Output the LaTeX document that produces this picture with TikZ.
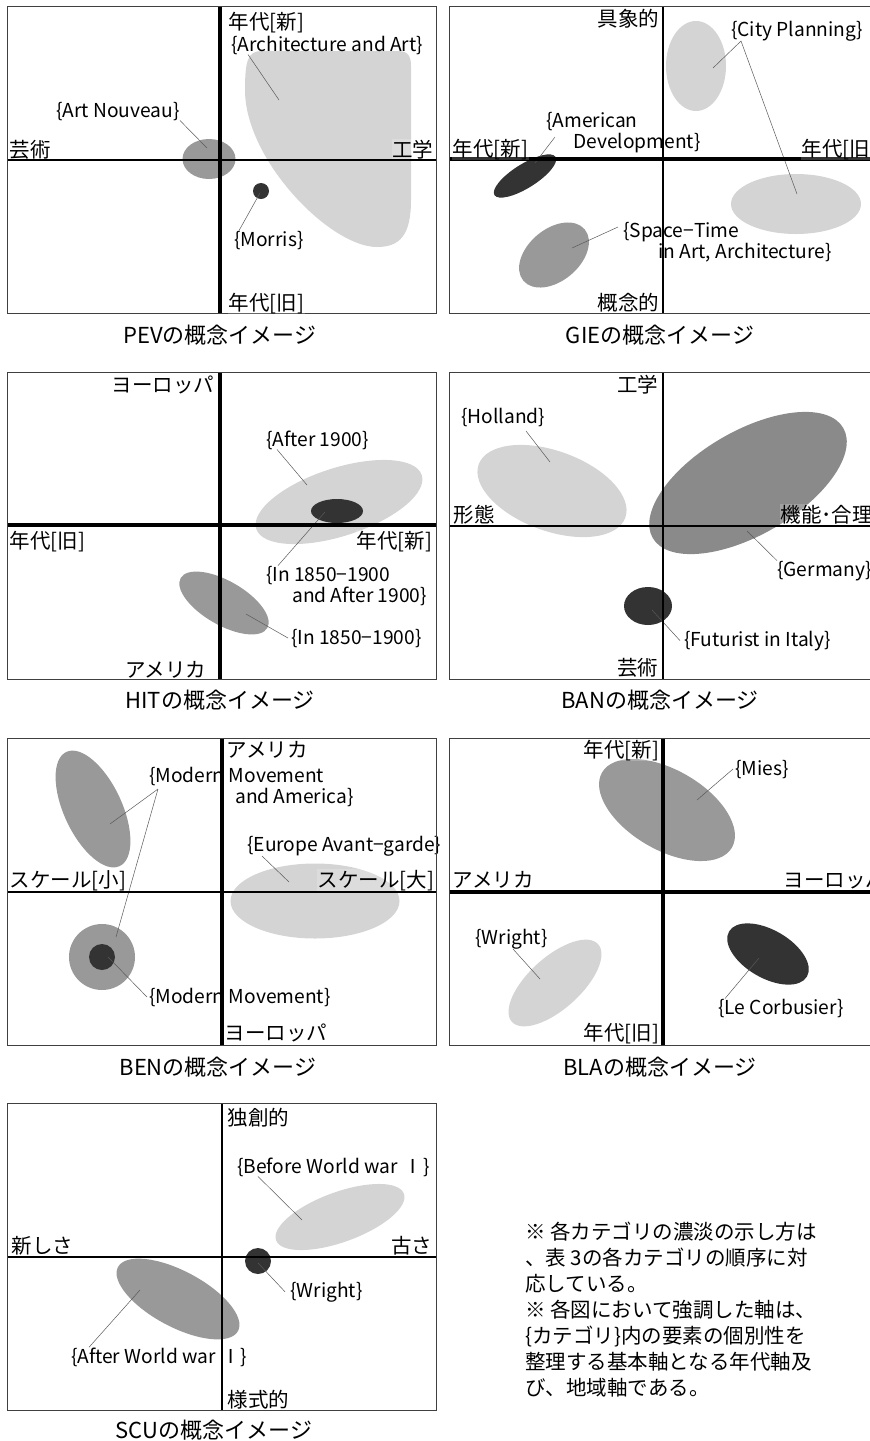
\documentclass[tikz,border=0pt]{standalone}
\usepackage{fontspec}
\setmainfont{Noto Sans CJK JP}
\usepackage{xcolor}
\usepackage{tikz}
\usetikzlibrary{shapes.geometric}
\definecolor{lite}{gray}{0.83}
\definecolor{mid}{gray}{0.60}
\definecolor{deep}{gray}{0.54}
\definecolor{dark}{gray}{0.20}

\begin{document}
\begin{tikzpicture}[
  x=1pt, y=-1pt,
  frm/.style={draw=black!75, line width=0.8pt},
  thk/.style={line width=4.5pt},
  thn/.style={line width=1.4pt},
  blob/.style={ellipse, inner sep=0pt, draw=none},
  axl/.style={font=\fontsize{20.5}{23}\selectfont, inner sep=0.5pt, fill=white, fill opacity=0.2, text opacity=1},
  lbl/.style={font=\fontsize{19.2}{21}\selectfont, inner sep=0pt, align=left},
  captxt/.style={font=\fontsize{22}{25}\selectfont, inner sep=0pt, anchor=base},
  lead/.style={draw=black!65, line width=0.5pt}
]
\useasboundingbox (0,0) rectangle (870,1441);

% ---------- PEV
\fill[lite] (245,90) .. controls (245,60) and (248,51) .. (262,51) -- (398,51)
  .. controls (408,51) and (411,56) .. (411,66) -- (411,200)
  .. controls (411,235) and (400,247) .. (377,247)
  .. controls (330,247) and (245,160) .. cycle;
\node[blob, fill=mid, minimum width=53, minimum height=40] (artnv) at (209,159) {};
\node[blob, fill=dark, minimum width=16, minimum height=16] (mor) at (261,191) {};
\coordinate (archp) at (279,100);
\coordinate (artnvp) at (207,148);
\coordinate (morp) at (260,193);
\node[lbl, anchor=base west] (archt) at (231,51) {\{Architecture and Art\}};
\node[lbl, anchor=base west] (artnvt) at (56,117) {\{Art Nouveau\}};
\node[lbl, anchor=base west] (mort) at (234,246) {\{Morris\}};
\draw[lead] ([xshift=17pt]archt.south west) -- (archp);
\draw[lead] (artnvt.south east) -- (artnvp);
\draw[lead] ([xshift=5pt]mort.north west) -- (morp);
\draw[thk] (220,6) -- (220,313);
\draw[thn] (7,160) -- (436,160);
\draw[frm] (7,6) rectangle (436,313);
\node[axl, anchor=base west] (pevn) at (228,29) {年代[新]};
\node[axl, anchor=base west] (pevs) at (228,310) {年代[旧]};
\node[axl, anchor=base west] (pevw) at (9,157) {芸術};
\node[axl, anchor=base east] (pevo) at (434,157) {工学};
\node[captxt] (pevc) at (220,343) {PEVの概念イメージ};

% ---------- GIE
\node[blob, fill=lite, minimum width=60, minimum height=90] (cty1) at (696,66) {};
\node[blob, fill=lite, minimum width=130, minimum height=60] (cty2) at (796,204) {};
\node[blob, fill=dark, minimum width=72, minimum height=24, rotate=32] (amd) at (525,176) {};
\node[blob, fill=mid, minimum width=80, minimum height=52, rotate=40] (spt) at (554,255) {};
\coordinate (cty1p) at (713,68);
\coordinate (cty2p) at (797,194);
\coordinate (amdq) at (555,137);
\coordinate (amdp) at (535,163);
\coordinate (sptq) at (618,227);
\coordinate (sptp) at (572,248);
\node[lbl, anchor=base west] (ctyt) at (731,36) {\{City Planning\}};
\node[lbl, anchor=base west] (amdt) at (546,148) {\{American\\\hspace*{27pt}Development\}};
\node[lbl, anchor=base west] (sptt) at (623,258) {\{Space−Time\\\hspace*{35pt}in Art, Architecture\}};
\draw[lead] ([xshift=10pt]ctyt.south west) -- (cty1p);
\draw[lead] ([xshift=10pt]ctyt.south west) -- (cty2p);
\draw[lead] (amdq) -- (amdp);
\draw[lead] (sptq) -- (sptp);
\draw[thn] (663,6) -- (663,313);
\draw[thk] (449,159) -- (878,159);
\draw[frm] (449,6) rectangle (878,313);
\node[axl, anchor=base east] (gien) at (660,26) {具象的};
\node[axl, anchor=base east] (gies) at (660,310) {概念的};
\node[axl, anchor=base west] (giew) at (452,156) {年代[新]};
\node[axl, anchor=base west] (gieo) at (801,156) {年代[旧]};
\node[captxt] (giec) at (660,343) {GIEの概念イメージ};

% ---------- HIT
\node[blob, fill=lite, minimum width=174, minimum height=68, rotate=18] (a19) at (339,502) {};
\node[blob, fill=dark, minimum width=52, minimum height=24] (both) at (337,511) {};
\node[blob, fill=mid, minimum width=100, minimum height=44, rotate=-30] (i19) at (224,603) {};
\coordinate (a19p) at (307,485);
\coordinate (bothp) at (325,512);
\coordinate (i19p) at (246,614);
\node[lbl, anchor=base west] (a19t) at (266,446) {\{After 1900\}};
\node[lbl, anchor=base west] (botht) at (266,602) {\{In 1850−1900\\\hspace*{26pt}and After 1900\}};
\node[lbl, anchor=base west] (i19t) at (291,644) {\{In 1850−1900\}};
\draw[lead] ([xshift=11pt]a19t.south west) -- (a19p);
\draw[lead] ([xshift=12pt]botht.north west) -- (bothp);
\draw[lead] ([xshift=-3pt]i19t.west) -- (i19p);
\draw[thk] (220,372) -- (220,679);
\draw[thk] (7,525) -- (436,525);
\draw[frm] (7,372) rectangle (436,679);
\node[axl, anchor=base east] (hitn) at (215,392) {ヨーロッパ};
\node[axl, anchor=base east] (hits) at (207,677) {アメリカ};
\node[axl, anchor=base west] (hitw) at (9,548) {年代[旧]};
\node[axl, anchor=base east] (hito) at (433,548) {年代[新]};
\node[captxt] (hitc) at (220,708) {HITの概念イメージ};

% ---------- BAN
\node[blob, fill=lite, minimum width=156, minimum height=80, rotate=-20] (hol) at (552,491) {};
\node[blob, fill=deep, minimum width=220, minimum height=104, rotate=30] (ger) at (748,483) {};
\node[blob, fill=dark, minimum width=48, minimum height=38] (fut) at (648,606) {};
\coordinate (holq) at (526,431);
\coordinate (holp) at (550,462);
\coordinate (gerp) at (747,531);
\coordinate (futp) at (652,610);
\node[lbl, anchor=base west] (holt) at (461,423) {\{Holland\}};
\node[lbl, anchor=base west] (gert) at (777,576) {\{Germany\}};
\node[lbl, anchor=base west] (futt) at (684,646) {\{Futurist in Italy\}};
\draw[lead] (holq) -- (holp);
\draw[lead] (gert.north west) -- (gerp);
\draw[lead] ([xshift=-4pt]futt.west) -- (futp);
\draw[thn] (663,372) -- (663,679);
\draw[thn] (449,526) -- (878,526);
\draw[frm] (449,372) rectangle (878,679);
\node[axl, anchor=base east] (bann) at (659,392) {工学};
\node[axl, anchor=base east] (bans) at (659,675) {芸術};
\node[axl, anchor=base west] (banw) at (453,522) {形態};
\node[axl, anchor=base west] (bano) at (780,522) {機能･合理};
\node[captxt] (banc) at (660,708) {BANの概念イメージ};

% ---------- BEN
\node[blob, fill=mid, minimum width=126, minimum height=58, rotate=-65] (mma) at (93,809) {};
\node[blob, fill=mid, minimum width=66, minimum height=66] (mmo) at (102,957) {};
\node[blob, fill=dark, minimum width=26, minimum height=26] (mmi) at (102,957) {};
\node[blob, fill=lite, minimum width=169, minimum height=75] (eur) at (315,901) {};
\coordinate (mmaq) at (158,789);
\coordinate (mmap) at (110,824);
\coordinate (mmop) at (116,937);
\coordinate (eurp) at (289,882);
\coordinate (mmip) at (108,957);
\node[lbl, anchor=base west] (mmat) at (149,803) {\{Modern Movement\\\hspace*{86pt}and America\}};
\node[lbl, anchor=base west] (eurt) at (247,851) {\{Europe Avant−garde\}};
\node[lbl, anchor=base west] (mmot) at (149,1003) {\{Modern Movement\}};
\draw[lead] (mmaq) -- (mmap);
\draw[lead] (mmaq) -- (mmop);
\draw[lead] ([xshift=15pt]eurt.south west) -- (eurp);
\draw[lead] ([xshift=-2pt]mmot.west) -- (mmip);
\draw[thk] (222,738) -- (222,1045);
\draw[thn] (7,892) -- (436,892);
\draw[frm] (7,738) rectangle (436,1045);
\node[axl, anchor=base west] (benn) at (226,757) {アメリカ};
\node[axl, anchor=base west] (bens) at (224,1040) {ヨーロッパ};
\node[axl, anchor=base west] (benw) at (9,887) {スケール[小]};
\node[axl, anchor=base east] (beno) at (435,887) {スケール[大]};
\node[captxt] (benc) at (218,1075) {BENの概念イメージ};

% ---------- BLA
\node[blob, fill=mid, minimum width=150, minimum height=80, rotate=-30] (mie) at (667,810) {};
\node[blob, fill=lite, minimum width=116, minimum height=52, rotate=42] (wri) at (555,983) {};
\node[blob, fill=dark, minimum width=90, minimum height=48, rotate=-30] (lec) at (768,954) {};
\coordinate (miep) at (697,800);
\coordinate (wrip) at (540,979);
\coordinate (lecp) at (759,958);
\node[lbl, anchor=base west] (miet) at (735,775) {\{Mies\}};
\node[lbl, anchor=base west] (writ) at (475,944) {\{Wright\}};
\node[lbl, anchor=base west] (lect) at (718,1014) {\{Le Corbusier\}};
\draw[lead] ([xshift=-2pt]miet.west) -- (miep);
\draw[lead] ([xshift=38pt]writ.south west) -- (wrip);
\draw[lead] ([xshift=7pt]lect.north west) -- (lecp);
\draw[thk] (663,738) -- (663,1045);
\draw[thk] (449,892) -- (878,892);
\draw[frm] (449,738) rectangle (878,1045);
\node[axl, anchor=base east] (blan) at (660,757) {年代[新]};
\node[axl, anchor=base east] (blas) at (660,1040) {年代[旧]};
\node[axl, anchor=base west] (blaw) at (452,887) {アメリカ};
\node[axl, anchor=base west] (blao) at (783,887) {ヨーロッパ};
\node[captxt] (blac) at (660,1075) {BLAの概念イメージ};

% ---------- SCU
\node[blob, fill=lite, minimum width=136, minimum height=50, rotate=20] (bwi) at (340,1217) {};
\node[blob, fill=dark, minimum width=26, minimum height=26] (wrs) at (258,1261) {};
\node[blob, fill=mid, minimum width=136, minimum height=56, rotate=-28] (awi) at (178,1299) {};
\coordinate (bwip) at (302,1220);
\coordinate (wrsp) at (258,1263);
\coordinate (awip) at (140,1290);
\node[lbl, anchor=base west] (bwit) at (237,1173) {\{Before World war\hspace*{6pt}Ⅰ\}};
\node[lbl, anchor=base west] (wrst) at (290,1297) {\{Wright\}};
\node[lbl, anchor=base west] (awit) at (71,1363) {\{After World war\hspace*{6pt}Ⅰ\}};
\draw[lead] ([xshift=21pt]bwit.south west) -- (bwip);
\draw[lead] ([xshift=-5pt]wrst.west) -- (wrsp);
\draw[lead] ([xshift=18pt]awit.north west) -- (awip);
\draw[thn] (222,1103) -- (222,1410);
\draw[thn] (7,1257) -- (436,1257);
\draw[frm] (7,1103) rectangle (436,1410);
\node[axl, anchor=base west] (scun) at (227,1125) {独創的};
\node[axl, anchor=base west] (scus) at (227,1407) {様式的};
\node[axl, anchor=base west] (scuw) at (11,1253) {新しさ};
\node[axl, anchor=base east] (scuo) at (433,1253) {古さ};
\node[captxt] (scuc) at (214,1438) {SCUの概念イメージ};

% note
\node[font=\fontsize{20.5}{26}\selectfont, inner sep=0pt, align=left, anchor=base west] (note) at (525,1395)
  {※ 各カテゴリの濃淡の示し方は\\、表 3の各カテゴリの順序に対\\応している。\\※ 各図において強調した軸は、\\\{カテゴリ\}内の要素の個別性を\\整理する基本軸となる年代軸及\\び、地域軸である。};
\end{tikzpicture}
\end{document}
